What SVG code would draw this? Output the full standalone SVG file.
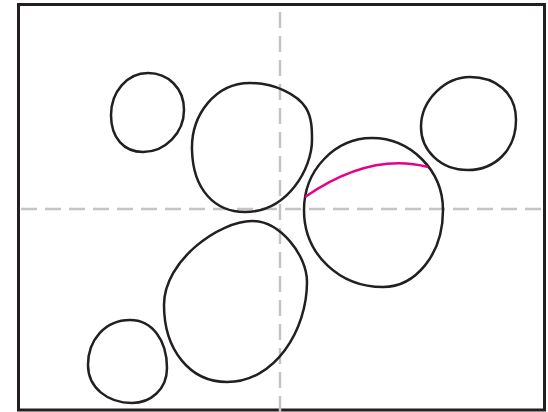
<svg xmlns="http://www.w3.org/2000/svg" width="548" height="412" viewBox="0 0 548 412">
<style>
.frame{fill:none;stroke:#231f20;stroke-width:3}
.guide{fill:none;stroke:#c4c4c4;stroke-width:2.5;stroke-dasharray:16 8}
.blob{fill:none;stroke:#231f20;stroke-width:2.5}
.arc{fill:none;stroke:#e6008a;stroke-width:2.5}
</style>
<rect width="548" height="412" fill="#ffffff"/>
<rect class="frame" x="18.5" y="4.5" width="526" height="405.5"/>
<g id="guides">
<line class="guide" x1="21" y1="209" x2="541" y2="209"/>
<line class="guide" x1="280" y1="12" x2="280" y2="412"/>
</g>
<g id="blob1"><path class="blob" d="M148,73 C168,73 184,88 184,110 C184,133 165,152 143,152 C124,152 111,138 111,115 C111,92 127,73 148,73 Z"/></g>
<g id="blob2"><path class="blob" d="M250,83 C275,83 298,95 306,108 C312,118 312,130 312,140 C312,168 288,212 245,212 C215,212 193,190 192,150 C191,115 215,83 250,83 Z"/></g>
<g id="blob3"><path class="blob" d="M372,138 C410,138 443,170 443,210 C443,255 415,287 383,287 C340,287 304,255 304,210 C304,170 335,138 372,138 Z"/></g>
<g id="blob4"><path class="blob" d="M470,77 C495,77 516,92 516,120 C516,150 495,170 468,170 C440,170 421,150 421,127 C421,100 445,77 470,77 Z"/></g>
<g id="blob5"><path class="blob" d="M252,221 C280,221 307,255 307,282 C307,330 275,382 227,382 C190,382 164,350 164,305 C164,260 220,221 252,221 Z"/></g>
<g id="blob6"><path class="blob" d="M130,320 C152,320 167,340 167,368 C167,390 150,403 132,403 C108,403 88,388 88,365 C88,340 105,320 130,320 Z"/></g>
<g id="connectors">
<path class="arc" d="M305,197 Q370,152 428,167"/>
</g>
</svg>
